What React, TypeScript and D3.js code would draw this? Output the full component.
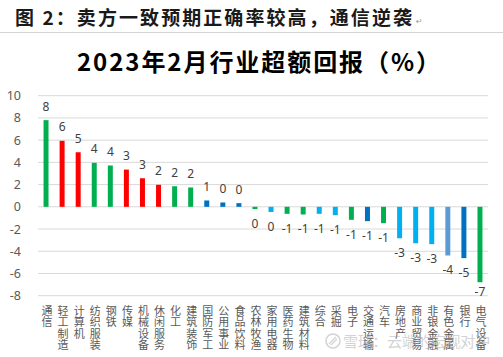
import React from "react";
import * as d3 from "d3";

const categories = [
  "通信", "轻工制造", "计算机", "纺织服装", "钢铁", "传媒", "机械设备", "休闲服务",
  "化工", "建筑装饰", "国防军工", "公用事业", "食品饮料", "农林牧渔", "家用电器",
  "医药生物", "建筑材料", "综合", "采掘", "电子", "交通运输", "汽车", "房地产",
  "商业贸易", "非银金融", "有色金属", "银行", "电气设备",
];
const values = [
  7.8, 5.94, 4.91, 3.96, 3.72, 3.35, 2.57, 1.98, 1.85, 1.74, 0.57, 0.39, 0.33, -0.2,
  -0.47, -0.63, -0.69, -0.63, -0.75, -1.17, -1.29, -1.47, -2.83, -3.28, -3.36, -4.38,
  -4.62, -6.79,
];
const colorKeys = [
  "g", "r", "r", "g", "g", "r", "r", "r", "g", "g", "b", "b", "b", "g", "lb",
  "g", "g", "lb", "lb", "g", "b", "g", "lb", "lb", "lb", "sb", "b", "g",
];
const yTicks = [10, 8, 6, 4, 2, 0, -2, -4, -6, -8];
const headerText = "图 2：卖方一致预期正确率较高，通信逆袭";
const titleText = "2023年2月行业超额回报（%）";
const watermarkText = "雪球：云端的宏观对冲";

const palette: Record<string, string> = {
  g: "#00B050",
  r: "#FF0000",
  b: "#0070C0",
  lb: "#00B0F0",
  sb: "#5B9BD5",
};

export default function App() {
  const W = 503;
  const H = 357;
  const x = d3.scaleBand<string>().domain(categories).range([38, 488]).paddingInner(0.69).paddingOuter(0.345);
  const y = d3.scaleLinear().domain([-8, 10]).range([295.7, 95.7]);
  const bw = x.bandwidth();
  const fmt = (v: number) => `${Math.round(v) || 0}`;

  return (
    <svg width={W} height={H} style={{ position: "absolute", left: 0, top: 0, background: "#fff" }}>
      <rect width={W} height={H} fill="#fff" />
      {/* header */}
      <text
        x={15}
        y={25}
        fontFamily="'Noto Sans CJK SC'"
        fontWeight={700}
        fontSize={19}
        fill="#1a1a1a"
        textLength={397}
        lengthAdjust="spacing"
      >
        {headerText}
      </text>
      <text x={416} y={24} fontFamily="'DejaVu Sans'" fontSize={8} fill="#999">↵</text>
      <line x1={0} x2={W} y1={32.5} y2={32.5} stroke="#D4D4D4" strokeWidth={1} />
      {/* title */}
      <text
        x={77}
        y={71}
        fontFamily="'Noto Sans CJK SC'"
        fontWeight={700}
        fontSize={24}
        fill="#000"
        textLength={363}
        lengthAdjust="spacing"
      >
        {titleText}
      </text>
      {/* gridlines */}
      {yTicks.map((t) => (
        <line key={t} x1={38} x2={488} y1={y(t)} y2={y(t)} stroke="#D9D9D9" strokeWidth={1} />
      ))}
      {/* y tick labels */}
      {yTicks.map((t) => (
        <text
          key={"l" + t}
          x={21}
          y={y(t) + 4.5}
          textAnchor="end"
          fontFamily="'Noto Sans'"
          fontSize={12.5}
          fill="#595959"
        >
          {t}
        </text>
      ))}
      {/* bars */}
      {categories.map((c, i) => {
        const v = values[i];
        const y0 = y(0);
        const y1 = y(v);
        return (
          <rect
            key={c}
            x={x(c)!}
            y={Math.min(y0, y1)}
            width={bw}
            height={Math.max(Math.abs(y1 - y0), 1)}
            fill={palette[colorKeys[i]]}
          />
        );
      })}
      {/* value labels */}
      {categories.map((c, i) => {
        const v = values[i];
        const cx = x(c)! + bw / 2;
        const ly = v >= 0 ? y(v) - 9.5 : Math.min(y(v) + 19, 296);
        return (
          <text
            key={"v" + c}
            x={cx}
            y={ly}
            textAnchor="middle"
            fontFamily="'Noto Sans'"
            fontSize={12}
            fill="#404040"
          >
            {fmt(v)}
          </text>
        );
      })}
      {/* category labels (stacked vertical, one glyph per line) */}
      {categories.map((c) => {
        const cx = x(c)! + bw / 2 + 1;
        return (
          <g key={"c" + c}>
            {Array.from(c).map((ch, k) => (
              <text
                key={k}
                x={cx}
                y={315 + k * 11.4}
                textAnchor="middle"
                fontFamily="'Noto Sans CJK SC'"
                fontSize={11}
                fill="#595959"
              >
                {ch}
              </text>
            ))}
          </g>
        );
      })}
      {/* watermark */}
      <g opacity={0.55}>
        <circle cx={333} cy={341} r={7} fill="none" stroke="#b0b0b0" strokeWidth={1.5} />
        <path d="M329,344 L336,337 M331,345 L337,339" stroke="#b0b0b0" strokeWidth={1.2} fill="none" />
        <text
          x={343}
          y={346.5}
          fontFamily="'Noto Sans CJK SC'"
          fontSize={15}
          fill="#b0b0b0"
          textLength={147}
          lengthAdjust="spacing"
        >
          {watermarkText}
        </text>
      </g>
    </svg>
  );
}
